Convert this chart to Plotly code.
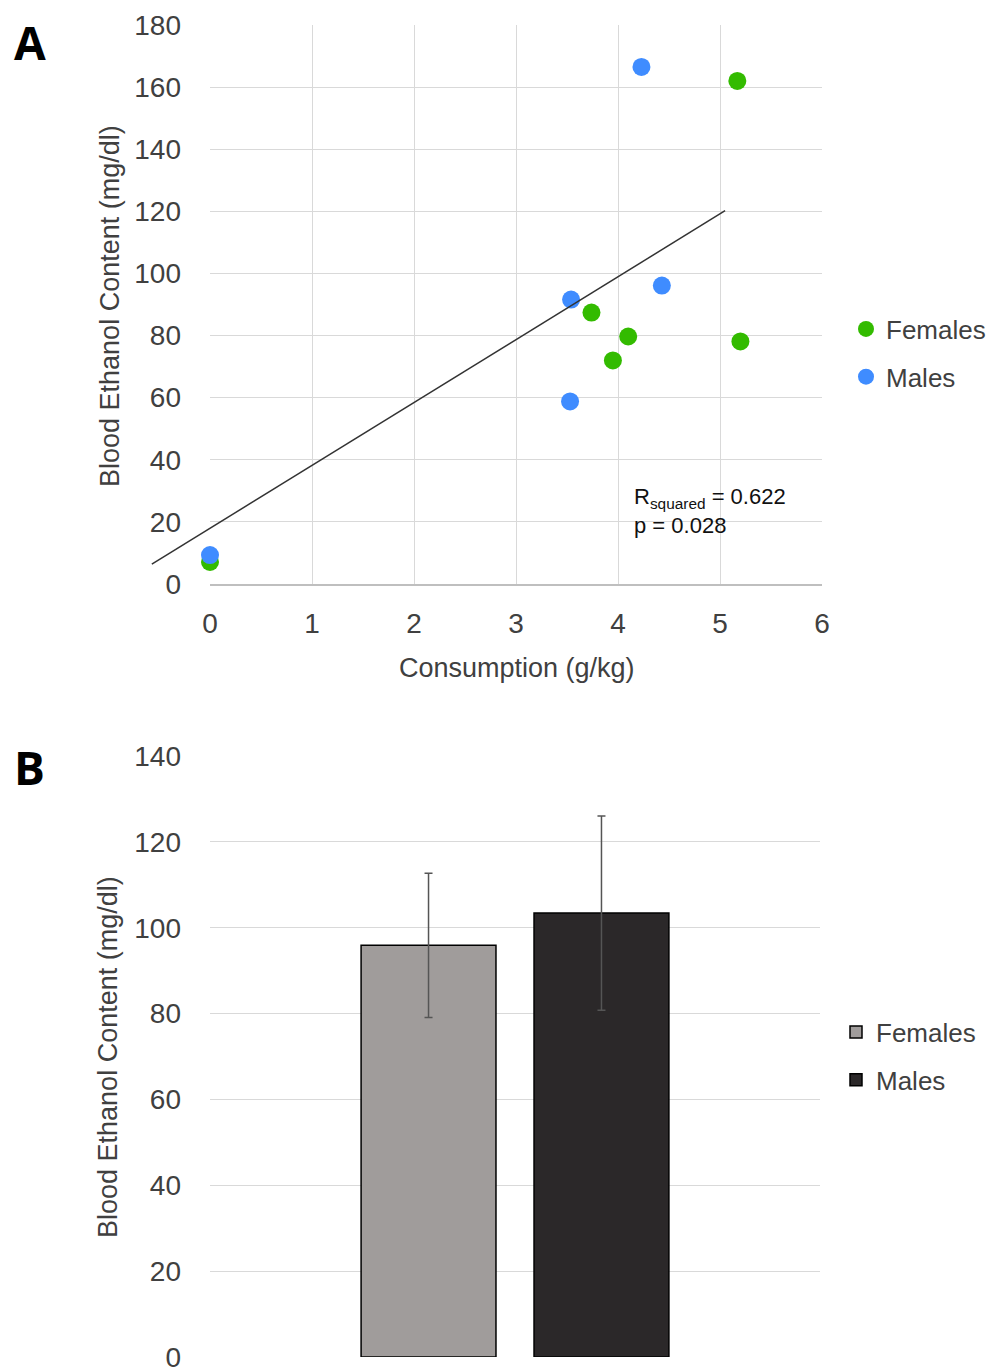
import plotly.graph_objects as go

# ---------------- data ----------------
female_consumption = [5.17, 3.74, 4.10, 3.95, 5.20, 0.0]
female_bec = [162.0, 87.4, 79.7, 72.0, 78.1, 7.1]
male_consumption = [4.23, 3.54, 4.43, 3.53, 0.0]
male_bec = [166.5, 91.6, 96.1, 58.8, 9.3]

trend_x = [-0.57, 5.05]
trend_y = [6.4, 120.2]

x_ticks_a = [0, 1, 2, 3, 4, 5, 6]
y_ticks_a = [0, 20, 40, 60, 80, 100, 120, 140, 160, 180]

bar_groups = ["Females", "Males"]
bar_means = [95.9, 103.4]
bar_err = [16.8, 22.6]
y_ticks_b = [0, 20, 40, 60, 80, 100, 120, 140]

# ---------------- layout helpers (screen pixel -> paper) ----------------
OFF = 8  # page body margin
W, H = 997 - OFF, 1370 - OFF
def px(x):
    return (x - OFF) / W
def py(y):
    return 1 - (y - OFF) / H

FONT = "Liberation Sans, Arial, sans-serif"
TXT = "#404040"
GRID = "#d9d9d9"
TICK_SIZE = 28
TITLE_SIZE = 27
LEGEND_SIZE = 26

xa_dom = [px(210), px(822)]
ya_dom = [py(584), py(25)]
xa_range = [0, 6]
# extended hidden axes so the trendline can extend left of the plot
ext_left = trend_x[0] - 0.03
xt_dom0 = xa_dom[0] - (xa_range[0] - ext_left) / (xa_range[1] - xa_range[0]) * (xa_dom[1] - xa_dom[0])

xb_dom = [px(210), px(820)]
yb_dom = [py(1357), py(756)]

fig = go.Figure()

GREEN = "#33bb00"
BLUE = "#3f8cff"

fig.add_trace(go.Scatter(
    x=trend_x, y=trend_y, mode="lines", xaxis="x3", yaxis="y3",
    line=dict(color="#333333", width=1.5), showlegend=False, hoverinfo="skip"))

fig.add_trace(go.Scatter(
    x=female_consumption, y=female_bec, mode="markers", name="Females",
    marker=dict(color=GREEN, size=18), cliponaxis=False, legend="legend",
    legendgroup="f"))
fig.add_trace(go.Scatter(
    x=male_consumption, y=male_bec, mode="markers", name="Males",
    marker=dict(color=BLUE, size=18), cliponaxis=False, legend="legend",
    legendgroup="m"))

bar_colors = ["#a09c9b", "#2b2829"]
for g, m, e, c in zip(bar_groups, bar_means, bar_err, bar_colors):
    fig.add_trace(go.Bar(
        x=["BEC"], y=[m], name=g, xaxis="x2", yaxis="y2",
        marker=dict(color=c, line=dict(color="#000000", width=1.5)),
        error_y=dict(type="data", array=[e], color="#555555", thickness=1.5, width=4),
        legend="legend2", legendgroup="b" + g))

axis_font = dict(family=FONT, size=TICK_SIZE, color=TXT)

fig.update_layout(
    width=W, height=H,
    margin=dict(l=0, r=0, t=0, b=0, autoexpand=False),
    paper_bgcolor="white", plot_bgcolor="rgba(0,0,0,0)",
    font=dict(family=FONT, color=TXT),
    barmode="group", bargap=0.433, bargroupgap=0.22,
    xaxis=dict(domain=xa_dom, range=xa_range, tickvals=x_ticks_a, showgrid=True,
               gridcolor=GRID, gridwidth=1.3, zeroline=False, showline=True,
               linecolor="#bfbfbf", linewidth=1.5, tickfont=axis_font,
               ticks="", ticklabelstandoff=14, anchor="y", automargin=False,
               ticklabeloverflow="allow"),
    yaxis=dict(domain=ya_dom, range=[0, 180], tickvals=y_ticks_a, showgrid=True,
               gridcolor=GRID, gridwidth=1.3, zeroline=False, showline=False,
               tickfont=axis_font, ticks="", ticklabelstandoff=28, anchor="x",
               automargin=False, ticklabeloverflow="allow"),
    xaxis3=dict(domain=[xt_dom0, xa_dom[1]], range=[ext_left, xa_range[1]],
                visible=False, anchor="y3", automargin=False),
    yaxis3=dict(domain=ya_dom, range=[0, 180], visible=False, anchor="x3",
                automargin=False),
    xaxis2=dict(domain=xb_dom, showticklabels=False, showgrid=False, zeroline=False,
                showline=False, ticks="", anchor="y2", automargin=False),
    yaxis2=dict(domain=yb_dom, range=[0, 140], tickvals=y_ticks_b, showgrid=True,
                gridcolor=GRID, gridwidth=1.3, zeroline=False, showline=False,
                tickfont=axis_font, ticks="", ticklabelstandoff=28, anchor="x2",
                automargin=False, ticklabeloverflow="allow"),
    legend=dict(x=px(846), y=py(353), xanchor="left", yanchor="middle",
                font=dict(family=FONT, size=LEGEND_SIZE, color=TXT), itemwidth=30,
                tracegroupgap=11, bgcolor="rgba(0,0,0,0)"),
    legend2=dict(x=px(836), y=py(1056), xanchor="left", yanchor="middle",
                 font=dict(family=FONT, size=LEGEND_SIZE, color=TXT), itemwidth=30,
                 tracegroupgap=11, bgcolor="rgba(0,0,0,0)"),
    annotations=[
        dict(text="<b>A</b>", x=px(12), y=py(42), xref="paper", yref="paper",
             xanchor="left", yanchor="middle", showarrow=False,
             font=dict(family="Open Sans, Liberation Sans, sans-serif", size=46, color="#000000")),
        dict(text="<b>B</b>", x=px(12), y=py(767), xref="paper", yref="paper",
             xanchor="left", yanchor="middle", showarrow=False,
             font=dict(family="Open Sans, Liberation Sans, sans-serif", size=46, color="#000000")),
        dict(text="Consumption (g/kg)", x=px(517), y=py(668), xref="paper", yref="paper",
             xanchor="center", yanchor="middle", showarrow=False,
             font=dict(family=FONT, size=TITLE_SIZE, color=TXT)),
        dict(text="Blood Ethanol Content (mg/dl)", x=px(110), y=py(306), xref="paper",
             yref="paper", xanchor="center", yanchor="middle", textangle=-90,
             showarrow=False, font=dict(family=FONT, size=TITLE_SIZE, color=TXT)),
        dict(text="Blood Ethanol Content (mg/dl)", x=px(108), y=py(1057), xref="paper",
             yref="paper", xanchor="center", yanchor="middle", textangle=-90,
             showarrow=False, font=dict(family=FONT, size=TITLE_SIZE, color=TXT)),
        dict(text="R<sub>squared</sub> = 0.622<br>p = 0.028", x=px(632), y=py(511),
             xref="paper", yref="paper", xanchor="left", yanchor="middle", align="left",
             showarrow=False, font=dict(family=FONT, size=22, color="#111111")),
    ],
)

fig.write_html("out.html")
